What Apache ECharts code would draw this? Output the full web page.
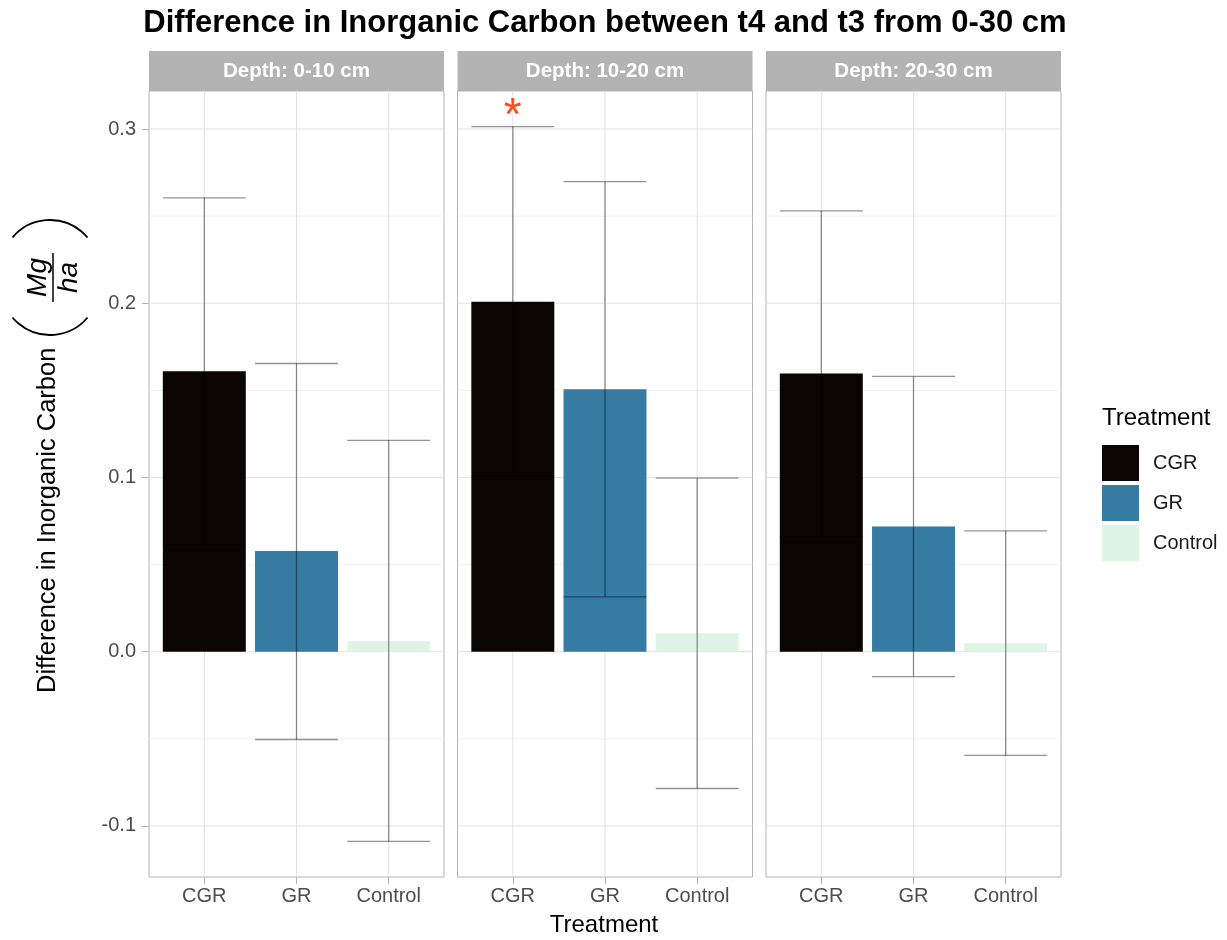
<!DOCTYPE html>
<html>
<head>
<meta charset="utf-8">
<script src="https://cdn.jsdelivr.net/npm/echarts@6/dist/echarts.min.js"></script>
<style>html,body{margin:0;padding:0;background:#fff}#c{width:1227px;height:940px}</style>
</head>
<body>
<div id="c"></div>
<script>
// ---- data ----
const categories = ['CGR', 'GR', 'Control'];
const facetLabels = ['Depth: 0-10 cm', 'Depth: 10-20 cm', 'Depth: 20-30 cm'];
const mean0_10  = [0.1610, 0.0578, 0.0062];
const lower0_10 = [0.0615, -0.0504, -0.1088];
const upper0_10 = [0.2605, 0.1654, 0.1213];
const mean10_20  = [0.2009, 0.1506, 0.0106];
const lower10_20 = [0.1008, 0.0315, -0.0785];
const upper10_20 = [0.3013, 0.2698, 0.0996];
const mean20_30  = [0.1597, 0.0718, 0.0048];
const lower20_30 = [0.0660, -0.0143, -0.0595];
const upper20_30 = [0.2530, 0.1580, 0.0693];
const yTicks = [-0.1, 0.0, 0.1, 0.2, 0.3];
const yMinor = [-0.05, 0.05, 0.15, 0.25];
const xTicks = [1, 2, 3];
const signifFacet = [1];
const signifCategory = [0];
const signifY = [0.31];
const signifLabel = ['*'];

// ---- styling / layout ----
const means = [mean0_10, mean10_20, mean20_30];
const lowers = [lower0_10, lower10_20, lower20_30];
const uppers = [upper0_10, upper10_20, upper20_30];
const colors = ['#0B0405', '#357BA2', '#DEF5E5'];
const FONT = "'Liberation Sans', Arial, Helvetica, sans-serif";
const panelLefts = [149, 457.5, 766];
const panelW = 295;
const panelTop = 91;
const panelH = 786;
const stripTop = 51;
const XMIN = 0.4, XMAX = 3.6, YMIN = -0.1293, YMAX = 0.3218;

const chart = echarts.init(document.getElementById('c'), null, {renderer: 'canvas'});

const grids = [], xAxes = [], yAxes = [], series = [], graphics = [];

panelLefts.forEach((left, d) => {
  grids.push({left: left, top: panelTop, width: panelW, height: panelH, show: true,
    borderColor: '#b3b3b3', borderWidth: 1, backgroundColor: 'transparent', containLabel: false});
  xAxes.push({type: 'value', gridIndex: d, min: XMIN, max: XMAX, position: 'bottom',
    axisLine: {show: false, onZero: false}, splitLine: {show: false},
    axisTick: {show: true, customValues: xTicks, length: 7, lineStyle: {color: '#b3b3b3', width: 1}},
    axisLabel: {show: true, customValues: xTicks, margin: 9, fontSize: 20, color: '#4d4d4d', fontFamily: FONT,
      formatter: v => categories[Math.round(v) - 1] || ''}});
  yAxes.push({type: 'value', gridIndex: d, min: YMIN, max: YMAX, position: 'left',
    axisLine: {show: false, onZero: false}, splitLine: {show: false},
    axisTick: {show: d === 0, customValues: yTicks, length: 7, lineStyle: {color: '#b3b3b3', width: 1}},
    axisLabel: {show: d === 0, customValues: yTicks, margin: 13, fontSize: 20, color: '#4d4d4d', fontFamily: FONT,
      formatter: v => v.toFixed(1)}});

  // grid lines
  const gridData = [];
  yMinor.forEach(v => gridData.push(['h', v, 'minor']));
  yTicks.forEach(v => gridData.push(['h', v, 'major']));
  xTicks.forEach(v => gridData.push(['v', v, 'major']));
  series.push({type: 'custom', name: 'grid', xAxisIndex: d, yAxisIndex: d, silent: true, z: 1,
    data: gridData.map((g, i) => [i]),
    renderItem: (params, api) => {
      const g = gridData[params.dataIndex];
      let p0, p1;
      if (g[0] === 'h') { p0 = api.coord([XMIN, g[1]]); p1 = api.coord([XMAX, g[1]]); }
      else { p0 = api.coord([g[1], YMIN]); p1 = api.coord([g[1], YMAX]); }
      return {type: 'line', shape: {x1: p0[0], y1: p0[1], x2: p1[0], y2: p1[1]},
        style: {stroke: g[2] === 'major' ? '#e2e2e2' : '#f1f1f1', lineWidth: 1}};
    }});

  // bars
  categories.forEach((cat, c) => {
    series.push({type: 'custom', name: cat, xAxisIndex: d, yAxisIndex: d, z: 2,
      itemStyle: {color: colors[c]},
      data: [[c + 1, means[d][c]]],
      renderItem: (params, api) => {
        const x = api.value(0), y = api.value(1);
        const p0 = api.coord([x - 0.45, 0]);
        const p1 = api.coord([x + 0.45, y]);
        return {type: 'rect', shape: {x: p0[0], y: Math.min(p0[1], p1[1]), width: p1[0] - p0[0], height: Math.abs(p1[1] - p0[1])},
          style: {fill: api.visual('color')}};
      }});
  });

  // error bars
  series.push({type: 'custom', name: 'errorbar', xAxisIndex: d, yAxisIndex: d, z: 3, silent: true,
    data: categories.map((cat, c) => [c + 1, lowers[d][c], uppers[d][c]]),
    renderItem: (params, api) => {
      const x = api.value(0), lo = api.value(1), hi = api.value(2);
      const pl = api.coord([x, lo]), ph = api.coord([x, hi]);
      const a = api.coord([x - 0.45, lo]), b = api.coord([x + 0.45, lo]);
      const st = {stroke: 'rgba(0,0,0,0.42)', lineWidth: 1.3};
      return {type: 'group', children: [
        {type: 'line', shape: {x1: pl[0], y1: pl[1], x2: ph[0], y2: ph[1]}, style: st},
        {type: 'line', shape: {x1: a[0], y1: pl[1], x2: b[0], y2: pl[1]}, style: st},
        {type: 'line', shape: {x1: a[0], y1: ph[1], x2: b[0], y2: ph[1]}, style: st}
      ]};
    }});

  // strip
  graphics.push({type: 'rect', left: left, top: stripTop, shape: {width: panelW, height: panelTop - stripTop},
    style: {fill: '#b3b3b3'}, z: 10});
  graphics.push({type: 'text', x: left + panelW / 2, y: (stripTop + panelTop) / 2, z: 11,
    style: {text: facetLabels[d], fill: '#ffffff', font: 'bold 20.5px ' + FONT, align: 'center', verticalAlign: 'middle'}});
});

// significance labels
signifFacet.forEach((d, i) => {
  series.push({type: 'custom', name: 'signif', xAxisIndex: d, yAxisIndex: d, z: 4, silent: true,
    data: [[signifCategory[i] + 1, signifY[i]]],
    renderItem: (params, api) => {
      const p = api.coord([api.value(0), api.value(1)]);
      return {type: 'text', style: {text: signifLabel[i], x: p[0], y: p[1] + 6, fill: '#FF4A1C',
        font: '46px ' + FONT, align: 'center', verticalAlign: 'middle'}};
    }});
});

// titles
graphics.push({type: 'text', x: 605, y: 23, style: {text: 'Difference in Inorganic Carbon between t4 and t3 from 0-30 cm',
  font: 'bold 31px ' + FONT, fill: '#000', align: 'center', verticalAlign: 'middle'}});
graphics.push({type: 'text', x: 604, y: 925, style: {text: 'Treatment', font: '24px ' + FONT, fill: '#000',
  align: 'center', verticalAlign: 'middle'}});
graphics.push({type: 'text', x: 1102, y: 418, style: {text: 'Treatment', font: '24px ' + FONT, fill: '#000',
  align: 'left', verticalAlign: 'middle'}});

// y-axis title with fraction (rotated)
const toRad = Math.PI / 180;
graphics.push({type: 'group', x: 53, y: 693, rotation: Math.PI / 2, children: [
  {type: 'text', style: {text: 'Difference in Inorganic Carbon', x: 0, y: -5, font: '25.5px ' + FONT, fill: '#000',
    align: 'left', verticalAlign: 'middle'}},
  {type: 'arc', shape: {cx: 358 + 49, cy: -3, r: 49, startAngle: 130 * toRad, endAngle: 230 * toRad, clockwise: true},
    style: {stroke: '#000', lineWidth: 1.8, fill: 'none'}},
  {type: 'arc', shape: {cx: 473 - 49, cy: -3, r: 49, startAngle: -50 * toRad, endAngle: 50 * toRad, clockwise: true},
    style: {stroke: '#000', lineWidth: 1.8, fill: 'none'}},
  {type: 'text', style: {text: 'Mg', x: 415.5, y: -1, font: 'italic 28px ' + FONT, fill: '#000', align: 'center', verticalAlign: 'bottom'}},
  {type: 'line', shape: {x1: 391, y1: 0, x2: 440, y2: 0}, style: {stroke: '#000', lineWidth: 1.5}},
  {type: 'text', style: {text: 'ha', x: 415.5, y: 2, font: 'italic 28px ' + FONT, fill: '#000', align: 'center', verticalAlign: 'top'}}
]});

chart.setOption({
  animation: false,
  backgroundColor: '#ffffff',
  textStyle: {fontFamily: FONT},
  grid: grids,
  xAxis: xAxes,
  yAxis: yAxes,
  legend: {data: categories, orient: 'vertical', left: 1102, top: 445, padding: 0,
    itemWidth: 37, itemHeight: 36, itemGap: 4, icon: 'rect', selectedMode: false,
    textStyle: {fontSize: 20, color: '#1a1a1a', fontFamily: FONT, padding: [0, 0, 0, 9]}},
  series: series,
  graphic: graphics
});
</script>
</body>
</html>
